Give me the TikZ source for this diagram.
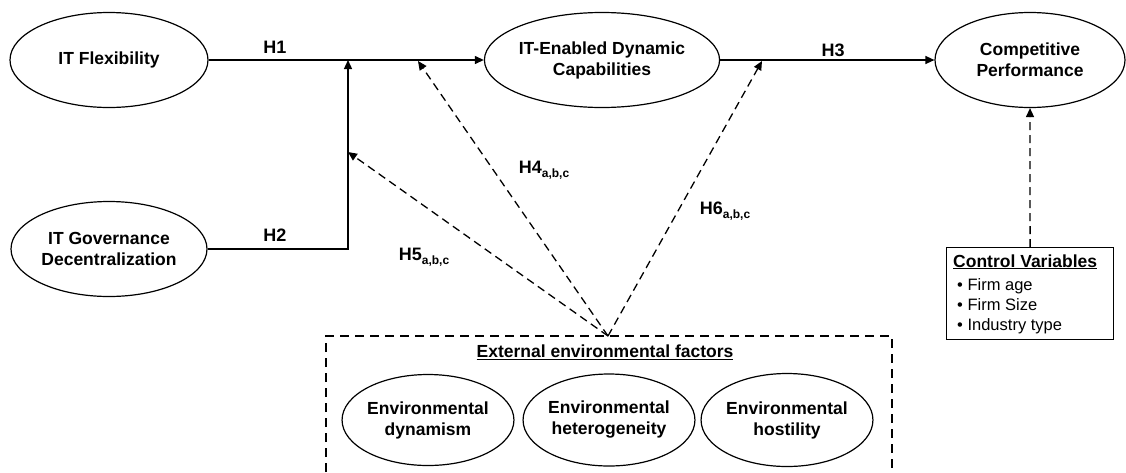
\documentclass[tikz,border=0pt]{standalone}
\usepackage{fontspec}
\setmainfont{Liberation Sans}
\usetikzlibrary{shapes.geometric,arrows.meta}
\begin{document}
\begin{tikzpicture}[x=1pt,y=-1pt,
  every node/.style={inner sep=0pt, font=\fontsize{17.5}{21}\selectfont\bfseries},
  ell/.style={draw, line width=1.2pt, ellipse, align=center},
  conn/.style={line width=1.3pt, -{Triangle[length=9pt,width=8pt]}},
  dconn/.style={line width=1.3pt, dash pattern=on 8pt off 5pt, -{Triangle[length=9pt,width=8pt]}},
  dline/.style={line width=1.3pt, dash pattern=on 9pt off 6pt},
  hlab/.style={font=\fontsize{18}{21}\selectfont\bfseries},
  item/.style={anchor=base west, font=\fontsize{16.5}{20}\selectfont}
]
\useasboundingbox (0,0) rectangle (1126,472);
% main constructs
\node[ell, minimum width=198pt, minimum height=95pt] (itf) at (109,60) {IT Flexibility};
\node[ell, minimum width=196pt, minimum height=95pt] (itg) at (109,249) {IT Governance\\Decentralization};
\node[ell, minimum width=212pt, minimum height=95pt] (ited) at (602,60) {IT-Enabled Dynamic\\Capabilities};
\node[ell, minimum width=190pt, minimum height=95pt] (cp) at (1030,60) {Competitive\\Performance};
% junction points
\coordinate (j1) at (348,60);
\coordinate (corner) at (348,249);
\coordinate (j5) at (348,152);
\coordinate (j4) at (418,61);
\coordinate (j6) at (762,61);
\coordinate (apex) at (608,336);
% solid paths
\draw[conn] (itf.east) -- (ited.west);
\draw[conn] (itg.east) -- (corner) -- (j1);
\draw[conn] (ited.east) -- (cp.west);
% labels
\node[hlab] (h1) at (275,47) {H1};
\node[hlab] (h2) at (275,235) {H2};
\node[hlab] (h3) at (833,50) {H3};
\node[hlab] (h4) at (544,170) {H4\raisebox{-4pt}{\fontsize{12}{12}\selectfont a,b,c}};
\node[hlab] (h5) at (424,257) {H5\raisebox{-4pt}{\fontsize{12}{12}\selectfont a,b,c}};
\node[hlab] (h6) at (725,211) {H6\raisebox{-4pt}{\fontsize{12}{12}\selectfont a,b,c}};
% dashed moderating arrows
\draw[dconn] (apex) -- (j5);
\draw[dconn] (apex) -- (j4);
\draw[dconn] (apex) -- (j6);
% external box (bottom open, beyond page)
\coordinate (bl) at (326,472);
\coordinate (tl) at (326,336);
\coordinate (tr) at (892,336);
\coordinate (br) at (892,472);
\draw[dline] (bl) -- (tl) -- (tr) -- (br);
\node (ext) at (605,352) {\underline{External environmental factors}};
\node[ell, minimum width=167pt, minimum height=91pt] (ed) at (428,420) {Environmental\\dynamism};
\node[ell, minimum width=168pt, minimum height=92pt] (eh) at (609,420) {Environmental\\heterogeneity};
\node[ell, minimum width=168pt, minimum height=93pt] (eo) at (787,420) {Environmental\\hostility};
% control variables
\node[draw, line width=1.2pt, anchor=north west, minimum width=167pt, minimum height=92pt] (ctrl) at (946,247) {};
\node[anchor=base west] (ctitle) at (953,267) {\underline{Control Variables}};
\node[item] (c1) at (957,290) {\textbullet\ Firm age};
\node[item] (c2) at (957,310) {\textbullet\ Firm Size};
\node[item] (c3) at (957,330) {\textbullet\ Industry type};
\draw[dconn] (ctrl.north) -- (cp.south);
\end{tikzpicture}
\end{document}
